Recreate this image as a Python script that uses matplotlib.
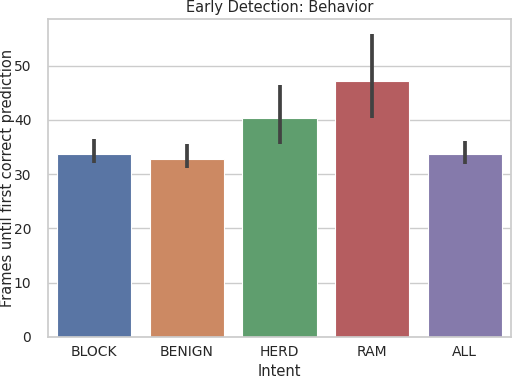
import matplotlib
matplotlib.use("Agg")
import matplotlib.pyplot as plt
import seaborn as sns
import numpy as np

intents = ["BLOCK", "BENIGN", "HERD", "RAM", "ALL"]
means = [33.8, 32.8, 40.3, 47.2, 33.8]
ci_low = [32.0, 31.1, 35.5, 40.4, 31.9]
ci_high = [36.5, 35.5, 46.4, 55.9, 36.2]

sns.set_theme(style="whitegrid")
plt.rcParams['font.family'] = ['DejaVu Sans']

colors = sns.color_palette("deep", len(intents), desat=0.75)

fig = plt.figure(figsize=(5.12, 3.78), dpi=100)
ax = fig.add_axes([48/512, 1 - 337/378, 463/512, (337 - 19)/378])

x = np.arange(len(intents))
ax.bar(x, means, width=0.8, color=colors, edgecolor="white", linewidth=0.8, zorder=2)
lo = np.array(means) - np.array(ci_low)
hi = np.array(ci_high) - np.array(means)
ax.errorbar(x, means, yerr=[lo, hi], fmt="none", ecolor=".26", elinewidth=2.7, capsize=0, zorder=3)

ax.set_xticks(x)
ax.set_xticklabels(intents, fontsize=10)
ax.set_xlim(-0.5, len(intents) - 0.5)
ax.set_ylim(0, 58.6)
ax.set_yticks([0, 10, 20, 30, 40, 50])
ax.tick_params(axis="y", labelsize=10, pad=6)
ax.tick_params(axis="x", length=0, pad=6)
ax.set_xlabel("Intent", fontsize=10.5)
ax.set_ylabel("Frames until first correct prediction", fontsize=10.5)
ax.xaxis.set_label_coords(0.5, -0.084)
ax.yaxis.set_label_coords(-0.072, 0.5)
ax.set_title("Early Detection: Behavior", fontsize=10.5, pad=5)
ax.xaxis.grid(False)

fig.savefig("out.png", dpi=100)
